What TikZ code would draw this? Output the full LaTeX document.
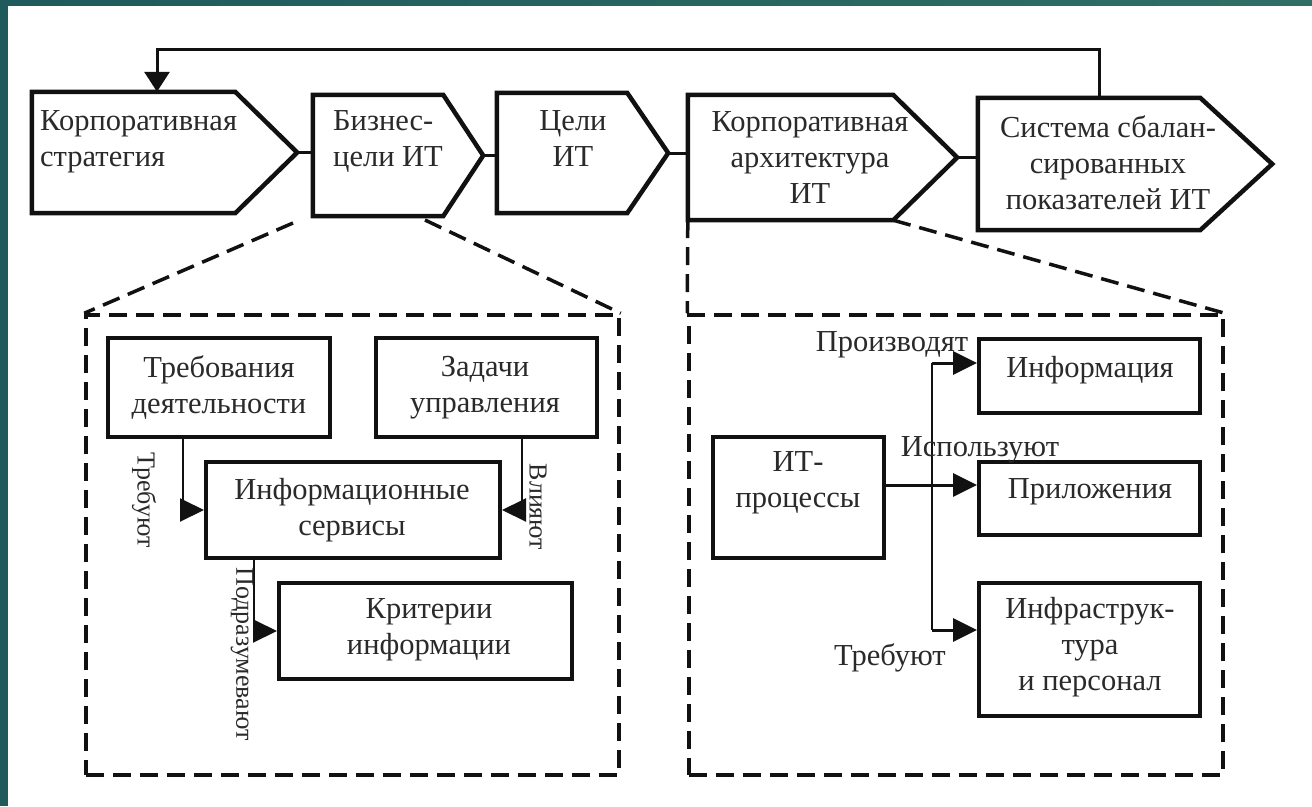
\documentclass[tikz,border=0pt]{standalone}
\usepackage{fontspec}
\setmainfont{Liberation Serif}
\usetikzlibrary{arrows.meta,fit}
\definecolor{slide}{HTML}{1F5A5C}
\definecolor{slidelight}{HTML}{2F6F66}
\definecolor{ink}{HTML}{111111}
\definecolor{inktext}{HTML}{2A2A2A}
\tikzset{
  body/.style={inner sep=0pt},
  frame/.style={draw=ink,line width=4pt,inner sep=0pt},
  outline/.style={draw=ink,line width=4.5pt},
  group/.style={draw=ink,line width=3.5pt,dash pattern=on 18pt off 9pt,inner sep=0pt},
  zoomline/.style={draw=ink,line width=3.5pt,dash pattern=on 18pt off 9pt},
  txt/.style={text=inktext,font=\fontsize{30.5}{36}\selectfont,align=center,inner sep=0pt},
  side/.style={text=inktext,font=\fontsize{26}{30}\selectfont,inner sep=0pt,rotate=-90},
  link/.style={draw=ink,line width=3pt},
  bus/.style={draw=ink,line width=2pt},
  arr/.style={draw=ink,line width=2pt,-{Triangle[length=24pt,width=23pt]}},
  warr/.style={draw=ink,line width=3pt,-{Triangle[length=24pt,width=23pt]}}
}
\begin{document}
\begin{tikzpicture}[x=1pt,y=-1pt]
\useasboundingbox (0,0) rectangle (1312,806);
\fill[white] (0,0) rectangle (1312,806);
\fill[slide] (0,0) rectangle (8,806);
\shade[left color=slide,right color=slidelight] (0,0) rectangle (1312,5);

\node[body,fit={(32,92) (235,213)}] (strat) {};
\node[body,fit={(313,95) (443,216)}] (biz) {};
\node[body,fit={(497,93) (627,213)}] (goals) {};
\node[body,fit={(688,95) (893,220)}] (arch) {};
\node[body,fit={(978,98) (1200,230)}] (bsc) {};
\foreach \n/\t in {strat/62,biz/40,goals/41,arch/64,bsc/72}{
  \coordinate (\n-tip) at ([xshift=\t pt]\n.east);
  \draw[outline] (\n.north west) -- (\n.north east) -- (\n-tip) -- (\n.south east) -- (\n.south west) -- cycle;
}
\node[txt,align=left,anchor=west] (strat-t) at (40,141.5) {Корпоративная\\стратегия};
\node[txt,align=left,anchor=west] (biz-t) at (333,141.5) {Бизнес-\\цели ИТ};
\node[txt] (goals-t) at (573,139) {Цели\\ИТ};
\node[txt] (arch-t) at (810,158) {Корпоративная\\архитектура\\ИТ};
\node[txt] (bsc-t) at (1108,162.5) {Система сбалан-\\сированных\\показателей ИТ};

\draw[link] (strat-tip) -- (strat-tip -| biz.west);
\draw[link] (biz-tip) -- (biz-tip -| goals.west);
\draw[link] (goals-tip) -- (goals-tip -| arch.west);
\draw[link] (arch-tip) -- (arch-tip -| bsc.west);

\coordinate (fbR) at (1099,49);
\coordinate (fbL) at (157,49);
\draw[link,-{Triangle[length=20pt,width=25pt]}] (fbR |- bsc.north) -- (fbR) -- (fbL) -- (fbL |- strat.north);

\node[group,fit={(86,315) (619,775)}] (grpL) {};
\node[group,fit={(689,315) (1223,775)}] (grpR) {};
\coordinate (zoomA) at (293,223);
\coordinate (zoomB) at (425,220);
\draw[zoomline] (zoomA) -- (grpL.north west);
\draw[zoomline] (zoomB) -- (grpL.north east);
\draw[zoomline] (arch.south west) -- (grpR.north west);
\draw[zoomline] (arch.south east) -- (grpR.north east);

\node[frame,fit={(108,338) (330,437)}] (req) {};
\node[frame,fit={(376,338) (597,437)}] (task) {};
\node[frame,fit={(206,462) (500,558)}] (svc) {};
\node[frame,fit={(279,583) (572,679)}] (crit) {};
\node[txt] (req-t) at (219,388) {Требования\\деятельности};
\node[txt] (task-t) at (485,388) {Задачи\\управления};
\node[txt] (svc-t) at (352,510) {Информационные\\сервисы};
\node[txt] (crit-t) at (429,630) {Критерии\\информации};

\draw[arr] ([xshift=-36pt]req.south) |- (svc.west);
\draw[arr] ([xshift=35.5pt]task.south) |- (svc.east);
\draw[arr] ([xshift=-99pt]svc.south) |- (crit.west);
\node[side] (req-l) at (144,500) {Требуют};
\node[side] (task-l) at (538,507) {Влияют};
\node[side] (svc-l) at (242,654) {Подразумевают};

\node[frame,fit={(713,437) (884,558)}] (proc) {};
\node[frame,fit={(979,339) (1200,413)}] (info) {};
\node[frame,fit={(979,462) (1200,535)}] (app) {};
\node[frame,fit={(979,583) (1200,716)}] (infra) {};
\node[txt] (proc-t) at (798,483) {ИТ-\\процессы};
\node[txt] (info-t) at (1090,370) {Информация};
\node[txt] (app-t) at (1090,492) {Приложения};
\node[txt] (infra-t) at (1090,647) {Инфраструк-\\тура\\и персонал};

\coordinate (busT) at (932,363);
\coordinate (busB) at (932,630);
\draw[bus] (busT) -- (busB);
\draw[warr] (busT) -- (busT -| info.west);
\draw[warr] (busB) -- (busB -| infra.west);
\draw[warr] ([yshift=12.5pt]proc.east) -- ([yshift=12.5pt]proc.east -| app.west);
\node[txt] (info-l) at (892,345) {Производят};
\node[txt] (app-l) at (980,450) {Используют};
\node[txt] (infra-l) at (890,658) {Требуют};
\end{tikzpicture}
\end{document}
